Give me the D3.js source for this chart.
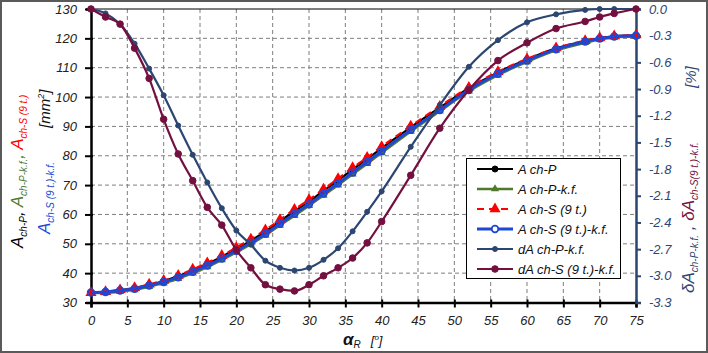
<!DOCTYPE html>
<html>
<head>
<meta charset="utf-8">
<script src="https://cdn.jsdelivr.net/npm/d3@7/dist/d3.min.js"></script>
<style>
  body { margin: 0; background: #fff; }
  svg { font-family: "Liberation Sans", Arial, sans-serif; }
</style>
</head>
<body>
<svg id="chart"></svg>
<script>
const alpha = [0, 2, 4, 6, 8, 10, 12, 14, 16, 18, 20, 22, 24, 26, 28, 30, 32, 34, 36, 38, 40, 44, 48, 52, 56, 60, 64, 68, 70, 72, 75];

const aChP   = [33.4, 33.7, 34.2, 34.9, 36.0, 37.3, 39.0, 41.0, 43.1, 45.6, 48.3, 51.1, 54.2, 57.7, 61.1, 64.4, 68.1, 71.6, 75.3, 78.9, 82.6, 89.7, 96.4, 103.0, 108.4, 112.8, 116.6, 119.1, 120.1, 120.7, 121.0];
const aChPkf = [33.2, 33.3, 33.7, 34.3, 35.4, 36.6, 38.1, 40.0, 42.1, 44.5, 47.1, 49.9, 52.9, 56.3, 59.6, 63.0, 66.5, 70.0, 73.7, 77.3, 81.0, 88.3, 95.2, 102.0, 107.5, 112.0, 115.9, 118.5, 119.6, 120.3, 120.6];
const aChS   = [33.3, 33.7, 34.3, 35.0, 36.2, 37.5, 39.2, 41.3, 43.5, 46.0, 48.7, 51.6, 54.7, 58.2, 61.7, 65.0, 68.6, 72.2, 75.9, 79.4, 83.1, 90.1, 96.8, 103.3, 108.6, 113.0, 116.7, 119.2, 120.2, 120.8, 121.1];
const aChSkf = [33.4, 33.6, 34.1, 34.7, 35.8, 37.0, 38.6, 40.5, 42.6, 45.0, 47.6, 50.4, 53.4, 56.8, 60.2, 63.5, 67.1, 70.6, 74.3, 77.9, 81.6, 88.8, 95.6, 102.4, 107.9, 112.4, 116.3, 118.9, 119.9, 120.6, 120.9];

const dAChPkf = [0, -0.05, -0.17, -0.39, -0.67, -0.97, -1.31, -1.64, -1.95, -2.24, -2.49, -2.65, -2.83, -2.91, -2.94, -2.91, -2.82, -2.69, -2.50, -2.28, -2.05, -1.55, -1.08, -0.65, -0.35, -0.15, -0.06, -0.01, 0, 0, 0];
const dAChSkf = [0, -0.09, -0.17, -0.44, -0.78, -1.24, -1.63, -1.93, -2.23, -2.43, -2.71, -2.91, -3.10, -3.15, -3.17, -3.10, -3.00, -2.91, -2.80, -2.63, -2.39, -1.87, -1.34, -0.91, -0.58, -0.38, -0.22, -0.14, -0.09, -0.05, 0];

const xTicks = [0, 5, 10, 15, 20, 25, 30, 35, 40, 45, 50, 55, 60, 65, 70, 75];
const leftTicks = [30, 40, 50, 60, 70, 80, 90, 100, 110, 120, 130];
const rightTicks = [0, -0.3, -0.6, -0.9, -1.2, -1.5, -1.8, -2.1, -2.4, -2.7, -3.0, -3.3];

const legendNames = ["A ch-P", "A ch-P-k.f.", "A ch-S (9 t.)", "A ch-S (9 t.)-k.f.", "dA ch-P-k.f.", "dA ch-S (9 t.)-k.f."];

const width = 708, height = 353;
const navy = "#2c4672", maroon = "#741040";

const svg = d3.select("#chart").attr("width", width).attr("height", height);

svg.append("rect")
   .attr("x", 1).attr("y", 1).attr("width", width - 2).attr("height", height - 2)
   .attr("fill", "#fff").attr("stroke", "#5a5a5a").attr("stroke-width", 2);

const x = d3.scaleLinear().domain([0, 75]).range([91, 636]);
const yL = d3.scaleLinear().domain([30, 130]).range([302.5, 9]);
const yR = d3.scaleLinear().domain([-3.3, 0]).range([302.5, 9]);

// grid
const grid = svg.append("g");
grid.selectAll(".vg").data(xTicks.slice(1, -1)).enter().append("line")
    .attr("x1", d => x(d)).attr("x2", d => x(d))
    .attr("y1", yL(130)).attr("y2", yL(30))
    .attr("stroke", "#7f7f7f").attr("stroke-dasharray", "4,3");
grid.selectAll(".hg").data(leftTicks.slice(1, -1)).enter().append("line")
    .attr("x1", x(0)).attr("x2", x(75))
    .attr("y1", d => yL(d)).attr("y2", d => yL(d))
    .attr("stroke", "#7f7f7f").attr("stroke-dasharray", "4,3");

svg.append("line")
   .attr("x1", x(0)).attr("x2", x(75)).attr("y1", yL(130)).attr("y2", yL(130))
   .attr("stroke", "#000").attr("stroke-width", 1);

// axes
const xAxis = svg.append("g")
   .attr("transform", `translate(0,${yL(30)})`)
   .call(d3.axisBottom(x).tickValues(xTicks).tickSize(5).tickPadding(8).tickFormat(d => d));
const yAxisL = svg.append("g")
   .attr("transform", `translate(${x(0)},0)`)
   .call(d3.axisLeft(yL).tickValues(leftTicks).tickSize(5).tickPadding(9).tickFormat(d => d));
const yAxisR = svg.append("g")
   .attr("transform", `translate(${x(75)},0)`)
   .call(d3.axisRight(yR).tickValues(rightTicks).tickSize(5).tickPadding(8).tickFormat(d => d.toFixed(1)));

[xAxis, yAxisL].forEach(g => {
  g.select(".domain").attr("stroke", "#000").attr("stroke-width", 2.5);
  g.selectAll(".tick line").attr("stroke", "#000").attr("stroke-width", 2);
  g.selectAll("text").attr("font-size", 13).attr("font-style", "italic").attr("fill", "#222");
});
xAxis.selectAll(".tick line").attr("y1", -3);
yAxisL.selectAll(".tick line").attr("x2", -6).attr("x1", 2);
yAxisR.select(".domain").attr("stroke", navy).attr("stroke-width", 2.5);
yAxisR.selectAll(".tick line").attr("stroke", navy).attr("stroke-width", 2);
yAxisR.selectAll("text").attr("font-size", 13).attr("font-style", "italic").attr("fill", navy);

// series
const series = [
  { name: legendNames[0], values: aChP, y: yL, color: "#000", width: 2.2, dash: null, marker: "circle", r: 3, fill: "#000" },
  { name: legendNames[1], values: aChPkf, y: yL, color: "#4f7a2e", width: 2.5, dash: null, marker: "triangle", r: 4, fill: "#4f7a2e" },
  { name: legendNames[2], values: aChS, y: yL, color: "#ff0000", width: 2.2, dash: "7,5", marker: "triangle", r: 5.5, fill: "#ff0000" },
  { name: legendNames[3], values: aChSkf, y: yL, color: "#1f47d6", width: 2.8, dash: null, marker: "circle", r: 3.3, fill: "none" },
  { name: legendNames[4], values: dAChPkf, y: yR, color: navy, width: 2.2, dash: null, marker: "circle", r: 2.5, fill: navy },
  { name: legendNames[5], values: dAChSkf, y: yR, color: maroon, width: 2.2, dash: null, marker: "circle", r: 3.3, fill: maroon }
];

function drawMarker(g, s, cx, cy, bg) {
  if (s.marker === "circle") {
    g.append("circle").attr("cx", cx).attr("cy", cy).attr("r", s.r)
     .attr("fill", s.fill === "none" ? bg : s.fill)
     .attr("stroke", s.color).attr("stroke-width", s.fill === "none" ? 1.8 : 1);
  } else {
    g.append("path")
     .attr("transform", `translate(${cx},${cy})`)
     .attr("d", d3.symbol(d3.symbolTriangle, s.r * s.r * 1.8)())
     .attr("fill", s.fill);
  }
}

series.forEach(s => {
  const pts = alpha.map((a, i) => [a, s.values[i]]);
  const line = d3.line().x(d => x(d[0])).y(d => s.y(d[1])).curve(d3.curveMonotoneX);
  svg.append("path").datum(pts)
     .attr("d", line)
     .attr("fill", "none").attr("stroke", s.color).attr("stroke-width", s.width)
     .attr("stroke-dasharray", s.dash);
  const mg = svg.append("g");
  pts.forEach(d => drawMarker(mg, s, x(d[0]), s.y(d[1]), "none"));
});

// legend
const lg = svg.append("g");
lg.append("rect").attr("x", 466.5).attr("y", 158.5).attr("width", 154).attr("height", 120)
  .attr("fill", "#fff").attr("stroke", "#000").attr("stroke-width", 1);
const legY = d3.scalePoint().domain(legendNames).range([169, 269]);
series.forEach(s => {
  const yy = legY(s.name);
  lg.append("line").attr("x1", 477).attr("x2", 513).attr("y1", yy).attr("y2", yy)
    .attr("stroke", s.color).attr("stroke-width", s.width).attr("stroke-dasharray", s.dash);
  drawMarker(lg, s, 495, yy, "#fff");
  lg.append("text").attr("x", 518).attr("y", yy + 4.5)
    .attr("font-size", 13).attr("font-style", "italic").attr("fill", "#111")
    .text(s.name);
});

// x title
const xt = svg.append("text").attr("x", 343).attr("y", 345).attr("fill", "#111");
xt.append("tspan").attr("font-size", 17).attr("font-weight", "bold").attr("font-style", "italic").text("α");
xt.append("tspan").attr("font-size", 10).attr("font-style", "italic").attr("dy", 3).text("R");
xt.append("tspan").attr("font-size", 13).attr("font-style", "italic").attr("dy", -3).attr("dx", 10).text("[");
xt.append("tspan").attr("font-size", 8).attr("font-style", "italic").attr("dy", -5).text("o");
xt.append("tspan").attr("font-size", 13).attr("font-style", "italic").attr("dy", 5).text("]");

// left title
function addPart(t, main, sub, color, sep) {
  t.append("tspan").attr("font-size", 17).attr("fill", color).text(main);
  t.append("tspan").attr("font-size", 10).attr("dy", 4).attr("fill", color).text(sub);
  t.append("tspan").attr("font-size", 17).attr("dy", -4).attr("fill", color).text(sep);
}
const lt1 = svg.append("text").attr("font-style", "italic").attr("transform", "translate(23,248) rotate(-90)");
addPart(lt1, "A", "ch-P", "#000", ", ");
addPart(lt1, "A", "ch-P-k.f.", "#4f7a2e", ", ");
addPart(lt1, "A", "ch-S (9 t.)", "#ff0000", "");
const lt2 = svg.append("text").attr("font-style", "italic").attr("transform", "translate(50,234) rotate(-90)");
addPart(lt2, "A", "ch-S (9 t.)-k.f.", "#1f47d6", "");
const lt3 = svg.append("text").attr("font-style", "italic").attr("font-size", 15).attr("fill", "#111")
  .attr("transform", "translate(50,128) rotate(-90)");
lt3.append("tspan").text("[mm");
lt3.append("tspan").attr("font-size", 9).attr("dy", -6).text("2");
lt3.append("tspan").attr("dy", 6).text("]");

// right title
const rt = svg.append("text").attr("font-style", "italic").attr("transform", "translate(694,293) rotate(-90)");
addPart(rt, "δA", "ch-P-k.f.", navy, " , ");
addPart(rt, "δA", "ch-S(9 t.)-k.f.", maroon, "");
svg.append("text").attr("font-style", "italic").attr("font-size", 15).attr("fill", navy)
  .attr("transform", "translate(696,88) rotate(-90)").text("[%]");
</script>
</body>
</html>
